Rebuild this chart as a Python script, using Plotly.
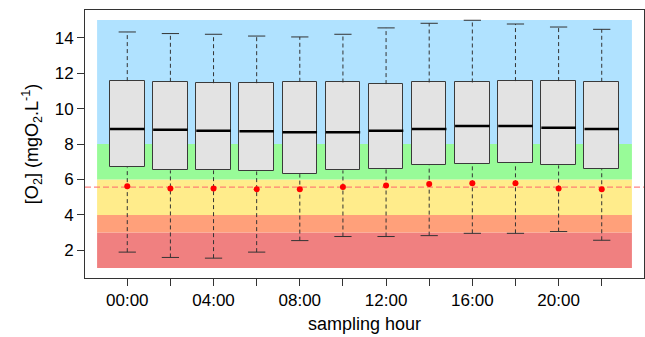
import plotly.graph_objects as go

hours = ["00:00", "02:00", "04:00", "06:00", "08:00", "10:00",
         "12:00", "14:00", "16:00", "18:00", "20:00", "22:00"]
upper = [14.32, 14.23, 14.19, 14.09, 14.04, 14.19, 14.55, 14.81, 14.98, 14.77, 14.60, 14.47]
q3 = [11.55, 11.51, 11.43, 11.43, 11.51, 11.47, 11.38, 11.47, 11.47, 11.55, 11.55, 11.51]
median = [8.85, 8.81, 8.75, 8.72, 8.66, 8.66, 8.75, 8.85, 9.02, 9.02, 8.92, 8.85]
q1 = [6.68, 6.51, 6.51, 6.45, 6.30, 6.51, 6.58, 6.79, 6.87, 6.91, 6.79, 6.58]
lower = [1.90, 1.60, 1.56, 1.90, 2.55, 2.78, 2.78, 2.83, 2.96, 2.96, 3.06, 2.57]
red_points = [5.62, 5.49, 5.49, 5.45, 5.45, 5.58, 5.66, 5.74, 5.79, 5.79, 5.49, 5.45]
threshold = 5.57
y_ticks = [2, 4, 6, 8, 10, 12, 14]

zone_bounds = [1, 3, 4, 6, 8, 15]
zone_colors = ["#F08080", "#FFA07A", "#FFEC8B", "#98FB98", "#B0E2FF"]

pos = list(range(1, len(hours) + 1))
label_pos = pos[::2]
label_text = hours[::2]
box_w = 0.8
cap_w = 0.2

fig = go.Figure()

# background zones
for i, c in enumerate(zone_colors):
    fig.add_shape(type="rect", xref="x", yref="y", x0=0.3, x1=12.7,
                  y0=zone_bounds[i], y1=zone_bounds[i + 1],
                  fillcolor=c, line_width=0, layer="below")

# whiskers (dashed)
wx, wy = [], []
for p, a, b, c, d in zip(pos, lower, q1, q3, upper):
    wx += [p, p, None, p, p, None]
    wy += [a, b, None, c, d, None]
fig.add_trace(go.Scatter(x=wx, y=wy, mode="lines",
                         line=dict(color="#333333", width=1, dash="4px,3px"),
                         hoverinfo="skip", showlegend=False))

# caps
cx, cy = [], []
for p, a, d in zip(pos, lower, upper):
    cx += [p - cap_w, p + cap_w, None, p - cap_w, p + cap_w, None]
    cy += [a, a, None, d, d, None]
fig.add_trace(go.Scatter(x=cx, y=cy, mode="lines",
                         line=dict(color="#333333", width=1),
                         hoverinfo="skip", showlegend=False))

# boxes
fig.add_trace(go.Bar(x=pos, base=q1, y=[b - a for a, b in zip(q1, q3)],
                     width=box_w, marker=dict(color="#E3E3E3",
                                              line=dict(color="#3a3a3a", width=1)),
                     showlegend=False, hoverinfo="skip"))

# medians
mx, my = [], []
for p, m in zip(pos, median):
    mx += [p - box_w / 2, p + box_w / 2, None]
    my += [m, m, None]
fig.add_trace(go.Scatter(x=mx, y=my, mode="lines",
                         line=dict(color="black", width=2.5),
                         hoverinfo="skip", showlegend=False))

# threshold line
fig.add_trace(go.Scatter(x=[0.02, 12.98], y=[threshold, threshold], mode="lines",
                         line=dict(color="rgba(255,110,110,0.85)", width=1.3, dash="6px,3px"),
                         hoverinfo="skip", showlegend=False))

# red points
fig.add_trace(go.Scatter(x=pos, y=red_points, mode="markers",
                         marker=dict(color="#FF0000", size=6),
                         hoverinfo="skip", showlegend=False))

font = "Liberation Sans, Arial, sans-serif"
fig.update_layout(
    width=645, height=337,
    margin=dict(l=85, r=1, t=10, b=59),
    paper_bgcolor="white", plot_bgcolor="white",
    font=dict(family=font, size=17, color="#000000"),
    bargap=0,
    xaxis=dict(range=[0.02, 12.98], tickvals=label_pos, ticktext=label_text,
               ticks="outside", ticklen=7, tickcolor="#333333",
               minor=dict(tickvals=pos, ticks="outside", ticklen=7, tickcolor="#333333",
                          showgrid=False),
               showline=True, mirror=True, linecolor="#333333", linewidth=1,
               showgrid=False, zeroline=False,
               title=dict(text="sampling hour", standoff=7, font=dict(size=18))),
    yaxis=dict(range=[0.44, 15.56], tickvals=y_ticks,
               ticks="outside", ticklen=7, tickcolor="#333333",
               showline=True, mirror=True, linecolor="#333333", linewidth=1,
               showgrid=False, zeroline=False,
               title=dict(text="[O<sub>2</sub>] (mgO<sub>2</sub>.L<sup>-1</sup>)",
                          standoff=11, font=dict(size=18))),
)

fig.write_html("out.html")
